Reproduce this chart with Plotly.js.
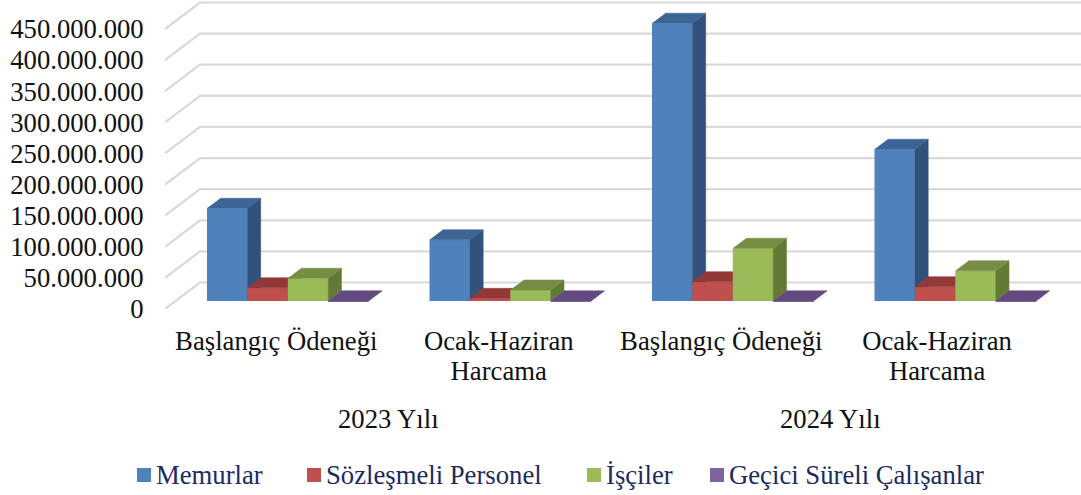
<!DOCTYPE html>
<html lang="tr">
<head>
<meta charset="utf-8">
<script src="https://cdn.plot.ly/plotly-3.0.1.min.js"></script>
<style>html,body{margin:0;padding:0;background:#fff}#chart{width:1081px;height:495px}</style>
</head>
<body>
<div id="chart"></div>
<script>
// Data
const categories = ["Başlangıç Ödeneği", "Ocak-Haziran<br>Harcama", "Başlangıç Ödeneği", "Ocak-Haziran<br>Harcama"];
const years = ["2023 Yılı", "2024 Yılı"];
const memurlar = [149000000, 98500000, 446500000, 244000000];
const sozlesmeli = [21400000, 4300000, 31000000, 23000000];
const isciler = [36500000, 17700000, 84700000, 48700000];
const gecici = [300000, 300000, 300000, 300000];
const seriesNames = ["Memurlar", "Sözleşmeli Personel", "İşçiler", "Geçici Süreli Çalışanlar"];
const seriesValues = [memurlar, sozlesmeli, isciler, gecici];
const frontColors = ["#4F81BD", "#C0504D", "#9BBB59", "#8064A2"];
const topColors = ["#3C6494", "#933836", "#768E43", "#624A80"];
const sideColors = ["#31527B", "#7A2E2C", "#637A36", "#513D6C"];
const gridValues = [0, 50e6, 100e6, 150e6, 200e6, 250e6, 300e6, 350e6, 400e6, 450e6];

// Oblique projection, expressed in axis units
const W = 1081, H = 495, L = 165, FLOOR = 309;
const pxPerCat = 222.5, pxPerVal = 280 / 450e6;
const xMax = (W - L) / pxPerCat, yMax = FLOOR / pxPerVal;
const depthX = 35 / pxPerCat, depthY = 26.5 / pxPerVal;
const barFront = 0.30, barBack = 0.68;
const barW = 40.4 / pxPerCat, catGap = 31.5 / pxPerCat;
const fontPx = 26.7;

const traces = [];

// Back wall and side wall grid
const gx = [], gy = [];
gridValues.forEach(v => {
  gx.push(0, depthX, xMax + 0.1, null);
  gy.push(v, v + depthY, v + depthY, null);
});
traces.push({x: gx, y: gy, type: "scatter", mode: "lines", cliponaxis: false,
  line: {color: "#D9D9D9", width: 2.2}, hoverinfo: "skip", showlegend: false});

seriesValues.forEach((vals, s) => {
  const yaxis = "y" + (s + 2);
  const left = vals.map((_, i) => i + catGap + s * barW + barFront * depthX);
  traces.push({type: "bar", name: seriesNames[s], x: left.map(v => v + barW / 2), y: vals,
    base: vals.map(() => barFront * depthY), width: vals.map(() => barW), yaxis,
    marker: {color: frontColors[s], line: {width: 0}}, hoverinfo: "skip"});
  const sx = [], sy = [], tx = [], ty = [];
  vals.forEach((v, i) => {
    const xl = i + catGap + s * barW, xr = xl + barW;
    [[xl, barFront], [xr, barFront], [xr, barBack], [xl, barBack]].forEach(p => {
      tx.push(p[0] + p[1] * depthX); ty.push(v + p[1] * depthY);
    });
    tx.push(null); ty.push(null);
    [[0, barFront], [v, barFront], [v, barBack], [0, barBack]].forEach(p => {
      sx.push(xr + p[1] * depthX); sy.push(p[0] + p[1] * depthY);
    });
    sx.push(null); sy.push(null);
  });
  traces.push({x: sx, y: sy, yaxis, type: "scatter", mode: "lines", fill: "toself",
    fillcolor: sideColors[s], line: {width: 0.5, color: sideColors[s]}, hoverinfo: "skip", showlegend: false});
  traces.push({x: tx, y: ty, yaxis, type: "scatter", mode: "lines", fill: "toself",
    fillcolor: topColors[s], line: {width: 0.5, color: topColors[s]}, hoverinfo: "skip", showlegend: false});
});

const serif = "Liberation Serif, Times New Roman, serif";
const overlay = {overlaying: "y", range: [0, yMax], visible: false, anchor: "x", fixedrange: true};
const layout = {
  width: W, height: H,
  margin: {l: L, r: 0, t: 0, b: H - FLOOR, pad: 0},
  paper_bgcolor: "#fff", plot_bgcolor: "#fff",
  barmode: "overlay",
  separators: ",.",
  font: {family: serif, size: fontPx, color: "#111"},
  xaxis: {range: [0, xMax], tickmode: "array", tickvals: [0.5, 1.5, 2.5, 3.47], ticktext: categories,
    showgrid: false, zeroline: false, showline: false, ticks: "outside", ticklen: 8, tickcolor: "rgba(0,0,0,0)",
    tickangle: 0, tickfont: {family: serif, size: fontPx, color: "#111"}, fixedrange: true},
  yaxis: {range: [0, yMax], tick0: 0, dtick: 50e6, tickformat: ",d", showgrid: false, zeroline: false, showline: false,
    ticks: "outside", ticklen: 15, tickcolor: "rgba(0,0,0,0)",
    tickfont: {family: serif, size: fontPx, color: "#111"}, fixedrange: true},
  yaxis2: overlay, yaxis3: overlay, yaxis4: overlay, yaxis5: overlay,
  showlegend: true,
  legend: {orientation: "h", x: 0.02, xanchor: "left", y: 0.5, yanchor: "middle",
    traceorder: "normal", font: {family: serif, size: fontPx, color: "#1B2A63"}, bgcolor: "rgba(0,0,0,0)"},
  annotations: years.map((t, k) => ({text: t, xref: "x", yref: "paper", x: k === 0 ? 1.005 : 2.99,
    y: (FLOOR - 419) / FLOOR, xanchor: "center", yanchor: "middle", showarrow: false,
    font: {family: serif, size: fontPx, color: "#111"}}))
};

// Fine placement of rendered legend entries and multi-line spacing
const legendX = [137, 307, 587, 710];
function refine() {
  const gd = document.getElementById("chart");
  gd.querySelectorAll(".xtick text tspan.line").forEach(t => {
    const d = parseFloat(t.getAttribute("dy"));
    if (d > 0) t.setAttribute("dy", (d * 1.13 / 1.3) + "em");
  });
  const box = gd.querySelector(".legend .scrollbox");
  if (box) box.removeAttribute("clip-path");
  const rowY = 475;
  gd.querySelectorAll(".legend .traces").forEach((g, i) => {
    const path = g.querySelector(".legendpoints path");
    const txt = g.querySelector(".legendtext");
    if (path) { path.setAttribute("d", "M-7,-7H7V7H-7Z"); }
    if (txt) {
      txt.setAttribute("x", 32);
      txt.setAttribute("transform", "translate(0,-1.5)");
      txt.querySelectorAll("tspan").forEach(t => { if (t.getAttribute("x")) t.setAttribute("x", 32); });
    }
    const r = path.getBoundingClientRect();
    const m = /translate\(([-\d.]+),\s*([-\d.]+)\)/.exec(g.getAttribute("transform") || "translate(0,0)");
    const nx = parseFloat(m[1]) + legendX[i] - r.left;
    const ny = parseFloat(m[2]) + rowY - (r.top + r.bottom) / 2;
    g.setAttribute("transform", "translate(" + nx + "," + ny + ")");
  });
}
Plotly.newPlot("chart", traces, layout, {displayModeBar: false, responsive: false}).then(refine);
</script>
</body>
</html>
